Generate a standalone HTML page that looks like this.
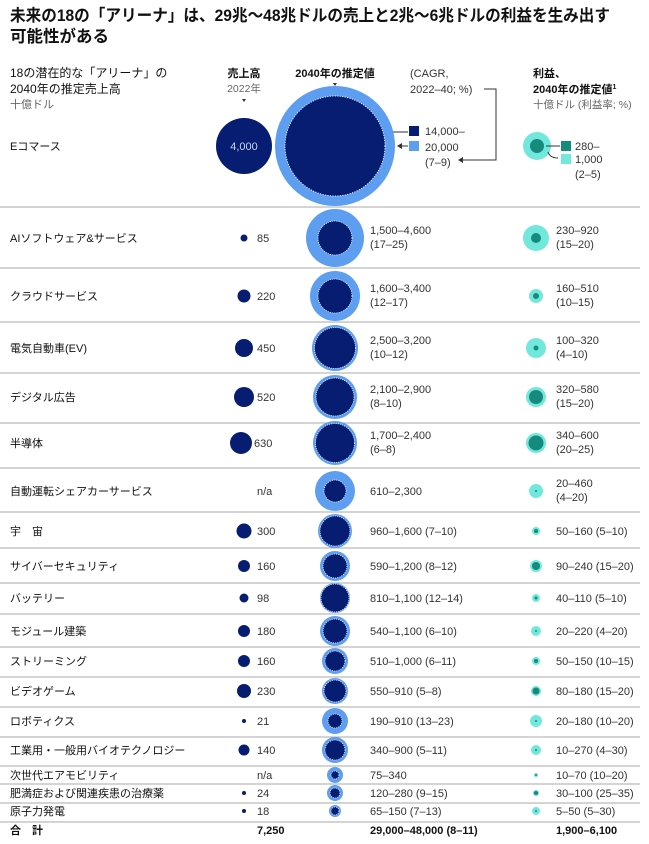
<!DOCTYPE html>
<html><head><meta charset="utf-8"><style>
html,body{margin:0;padding:0;background:#fff;}
svg{display:block;font-family:"Liberation Sans","Noto Sans CJK JP",sans-serif;}
.t{font-size:11px;fill:#333;}
.l{font-size:11px;fill:#111;}
.b{font-weight:bold;}
</style></head><body>
<svg width="649" height="844" viewBox="0 0 649 844" xmlns="http://www.w3.org/2000/svg">
<text x="10" y="21" font-size="16.5" font-weight="bold" fill="#111" textLength="600" lengthAdjust="spacingAndGlyphs">未来の18の「アリーナ」は、29兆～48兆ドルの売上と2兆～6兆ドルの利益を生み出す</text>
<text x="10" y="42" font-size="16.5" font-weight="bold" fill="#111">可能性がある</text>

<text x="10" y="77" font-size="12" fill="#111">18の潜在的な「アリーナ」の</text>
<text x="10" y="93" font-size="12" fill="#111">2040年の推定売上高</text>
<text x="10" y="108" font-size="11" fill="#666">十億ドル</text>
<text x="10" y="150" class="l">Eコマース</text>

<text x="244" y="77" font-size="11" text-anchor="middle" fill="#111" class="b">売上高</text>
<text x="244" y="92" font-size="10.5" text-anchor="middle" fill="#666">2022年</text>
<path d="M242 99 L246 99 L244 102Z" fill="#333"/>
<text x="335" y="77" font-size="11" text-anchor="middle" fill="#111" class="b">2040年の推定値</text>
<path d="M333 83 L337 83 L335 86Z" fill="#333"/>
<text x="410" y="77" class="t" fill="#555">(CAGR,</text>
<text x="410" y="93" class="t">2022–40; %)</text>
<polyline points="484,89 496,89 496,160 462,160" fill="none" stroke="#333" stroke-width="1"/>
<path d="M458 160 L463 157 L463 163Z" fill="#333"/>

<circle cx="244" cy="146" r="28" fill="#061d72"/>
<text x="244" y="150" font-size="11" text-anchor="middle" fill="#c9d3f0">4,000</text>
<line x1="388" y1="132" x2="408" y2="132" stroke="#333"/>
<line x1="400" y1="146" x2="408" y2="146" stroke="#333"/>
<path d="M397 146 L402 143 L402 149Z" fill="#333"/>
<rect x="409" y="126" width="10" height="10" fill="#061d72"/>
<rect x="409" y="141" width="10" height="10" fill="#5e9ef0"/>
<text x="425" y="135" class="t">14,000–</text>
<text x="425" y="151" class="t">20,000</text>
<text x="425" y="166" class="t">(7–9)</text>

<text x="533" y="77" font-size="11" class="b" fill="#111">利益、</text>
<text x="533" y="93" font-size="11" class="b" fill="#111">2040年の推定値<tspan font-size="7" dy="-4">1</tspan></text>
<text x="533" y="108" font-size="10.5" fill="#666">十億ドル (利益率; %)</text>
<circle cx="537" cy="146" r="14" fill="#72e8dc"/>
<circle cx="537" cy="146" r="7" fill="#178a7e"/>
<line x1="546" y1="146" x2="560" y2="146" stroke="#333"/>
<path d="M548 152 Q550 158 558 158" fill="none" stroke="#333"/>
<rect x="561" y="141" width="10" height="10" fill="#178a7e"/>
<rect x="561" y="154" width="10" height="10" fill="#72e8dc"/>
<text x="575" y="150" class="t">280–</text>
<text x="575" y="163" class="t">1,000</text>
<text x="575" y="178" class="t">(2–5)</text>

<g stroke="#aaa" stroke-width="1">
<line x1="0" y1="207" x2="640" y2="207"/>
<line x1="0" y1="268" x2="640" y2="268"/>
<line x1="0" y1="322" x2="640" y2="322"/>
<line x1="0" y1="373" x2="640" y2="373"/>
<line x1="0" y1="423" x2="640" y2="423"/>
<line x1="0" y1="468" x2="640" y2="468"/>
<line x1="0" y1="512" x2="640" y2="512"/>
<line x1="0" y1="548" x2="640" y2="548"/>
<line x1="0" y1="583" x2="640" y2="583"/>
<line x1="0" y1="614" x2="640" y2="614"/>
<line x1="0" y1="647" x2="640" y2="647"/>
<line x1="0" y1="677" x2="640" y2="677"/>
<line x1="0" y1="707" x2="640" y2="707"/>
<line x1="0" y1="737" x2="640" y2="737"/>
<line x1="0" y1="766" x2="640" y2="766"/>
<line x1="0" y1="784" x2="640" y2="784"/>
<line x1="0" y1="803" x2="640" y2="803"/>
<line x1="0" y1="822" x2="640" y2="822"/>
</g>
<circle cx="335" cy="146" r="60" fill="#5e9ef0"/>
<circle cx="335" cy="146" r="50" fill="#061d72" stroke="#fff" stroke-width="1" stroke-dasharray="1 1.5"/>

<g fill="#061d72">
<circle cx="244" cy="238" r="3.5"/>
<circle cx="244" cy="296" r="6.5"/>
<circle cx="244" cy="348" r="9"/>
<circle cx="244" cy="397" r="10"/>
<circle cx="241" cy="443" r="11"/>
<circle cx="244" cy="531" r="7.5"/>
<circle cx="244" cy="566" r="6"/>
<circle cx="244" cy="598" r="4.5"/>
<circle cx="244" cy="631" r="6"/>
<circle cx="244" cy="661" r="6"/>
<circle cx="244" cy="691" r="7"/>
<circle cx="244" cy="721" r="2"/>
<circle cx="244" cy="750" r="5.5"/>
<circle cx="244" cy="793" r="2"/>
<circle cx="244" cy="811" r="2"/>
</g>

<g fill="#5e9ef0">
<circle cx="335" cy="238" r="29"/>
<circle cx="335" cy="296" r="25"/>
<circle cx="335" cy="348" r="23"/>
<circle cx="335" cy="397" r="22"/>
<circle cx="335" cy="443" r="22"/>
<circle cx="335" cy="491" r="20"/>
<circle cx="335" cy="531" r="17"/>
<circle cx="335" cy="566" r="15"/>
<circle cx="335" cy="598" r="15"/>
<circle cx="335" cy="631" r="15"/>
<circle cx="335" cy="661" r="13"/>
<circle cx="335" cy="691" r="13"/>
<circle cx="335" cy="721" r="13"/>
<circle cx="335" cy="750" r="13"/>
<circle cx="335" cy="775" r="8"/>
<circle cx="335" cy="793" r="8"/>
<circle cx="335" cy="811" r="6"/>
</g>
<g fill="#061d72" stroke="#fff" stroke-width="0.8" stroke-dasharray="1 1.2">
<circle cx="335" cy="238" r="17"/>
<circle cx="335" cy="296" r="17"/>
<circle cx="335" cy="348" r="20.5"/>
<circle cx="335" cy="397" r="19"/>
<circle cx="335" cy="443" r="19.5"/>
<circle cx="335" cy="491" r="11"/>
<circle cx="335" cy="531" r="15"/>
<circle cx="335" cy="566" r="12"/>
<circle cx="335" cy="598" r="14"/>
<circle cx="335" cy="631" r="12"/>
<circle cx="335" cy="661" r="10"/>
<circle cx="335" cy="691" r="11"/>
<circle cx="335" cy="721" r="7"/>
<circle cx="335" cy="750" r="10"/>
<circle cx="335" cy="775" r="4"/>
<circle cx="335" cy="793" r="5"/>
<circle cx="335" cy="811" r="4"/>
</g>

<g fill="#72e8dc">
<circle cx="536" cy="238" r="13"/>
<circle cx="536" cy="296" r="7"/>
<circle cx="536" cy="348" r="10"/>
<circle cx="536" cy="397" r="10"/>
<circle cx="536" cy="443" r="10"/>
<circle cx="536" cy="491" r="7"/>
<circle cx="536" cy="531" r="4"/>
<circle cx="536" cy="566" r="6"/>
<circle cx="536" cy="598" r="4"/>
<circle cx="536" cy="631" r="5"/>
<circle cx="536" cy="661" r="4"/>
<circle cx="536" cy="691" r="5"/>
<circle cx="536" cy="721" r="6"/>
<circle cx="536" cy="750" r="5"/>
<circle cx="536" cy="775" r="2"/>
<circle cx="536" cy="793" r="3"/>
<circle cx="536" cy="811" r="4"/>
</g>
<g fill="#178a7e">
<circle cx="536" cy="238" r="5"/>
<circle cx="536" cy="296" r="3"/>
<circle cx="536" cy="348" r="2.5"/>
<circle cx="536" cy="397" r="7"/>
<circle cx="536" cy="443" r="7.5"/>
<circle cx="536" cy="491" r="1"/>
<circle cx="536" cy="531" r="2"/>
<circle cx="536" cy="566" r="4"/>
<circle cx="536" cy="598" r="1.5"/>
<circle cx="536" cy="631" r="1"/>
<circle cx="536" cy="661" r="2"/>
<circle cx="536" cy="691" r="3.5"/>
<circle cx="536" cy="721" r="1"/>
<circle cx="536" cy="750" r="1"/>
<circle cx="536" cy="775" r="1"/>
<circle cx="536" cy="793" r="2"/>
<circle cx="536" cy="811" r="1"/>
</g>

<g class="l">
<text x="10" y="242">AIソフトウェア&amp;サービス</text>
<text x="10" y="300">クラウドサービス</text>
<text x="10" y="352">電気自動車(EV)</text>
<text x="10" y="401">デジタル広告</text>
<text x="10" y="447">半導体</text>
<text x="10" y="495">自動運転シェアカーサービス</text>
<text x="10" y="535">宇　宙</text>
<text x="10" y="570">サイバーセキュリティ</text>
<text x="10" y="602">バッテリー</text>
<text x="10" y="635">モジュール建築</text>
<text x="10" y="665">ストリーミング</text>
<text x="10" y="695">ビデオゲーム</text>
<text x="10" y="725">ロボティクス</text>
<text x="10" y="754">工業用・一般用バイオテクノロジー</text>
<text x="10" y="779">次世代エアモビリティ</text>
<text x="10" y="797">肥満症および関連疾患の治療薬</text>
<text x="10" y="815">原子力発電</text>
<text x="10" y="834" class="b">合　計</text>
</g>

<g class="t">
<text x="257" y="242">85</text>
<text x="257" y="300">220</text>
<text x="257" y="352">450</text>
<text x="257" y="401">520</text>
<text x="254" y="447">630</text>
<text x="257" y="495">n/a</text>
<text x="257" y="535">300</text>
<text x="257" y="570">160</text>
<text x="257" y="602">98</text>
<text x="257" y="635">180</text>
<text x="257" y="665">160</text>
<text x="257" y="695">230</text>
<text x="257" y="725">21</text>
<text x="257" y="754">140</text>
<text x="257" y="779">n/a</text>
<text x="257" y="797">24</text>
<text x="257" y="815">18</text>
<text x="257" y="834" class="b" fill="#111">7,250</text>

<text x="370" y="234">1,500–4,600</text><text x="370" y="248">(17–25)</text>
<text x="370" y="292">1,600–3,400</text><text x="370" y="306">(12–17)</text>
<text x="370" y="344">2,500–3,200</text><text x="370" y="358">(10–12)</text>
<text x="370" y="393">2,100–2,900</text><text x="370" y="407">(8–10)</text>
<text x="370" y="439">1,700–2,400</text><text x="370" y="453">(6–8)</text>
<text x="370" y="495">610–2,300</text>
<text x="370" y="535">960–1,600 (7–10)</text>
<text x="370" y="570">590–1,200 (8–12)</text>
<text x="370" y="602">810–1,100 (12–14)</text>
<text x="370" y="635">540–1,100 (6–10)</text>
<text x="370" y="665">510–1,000 (6–11)</text>
<text x="370" y="695">550–910 (5–8)</text>
<text x="370" y="725">190–910 (13–23)</text>
<text x="370" y="754">340–900 (5–11)</text>
<text x="370" y="779">75–340</text>
<text x="370" y="797">120–280 (9–15)</text>
<text x="370" y="815">65–150 (7–13)</text>
<text x="370" y="834" class="b" fill="#111">29,000–48,000 (8–11)</text>

<text x="556" y="234">230–920</text><text x="556" y="248">(15–20)</text>
<text x="556" y="292">160–510</text><text x="556" y="306">(10–15)</text>
<text x="556" y="344">100–320</text><text x="556" y="358">(4–10)</text>
<text x="556" y="393">320–580</text><text x="556" y="407">(15–20)</text>
<text x="556" y="439">340–600</text><text x="556" y="453">(20–25)</text>
<text x="556" y="487">20–460</text><text x="556" y="501">(4–20)</text>
<text x="556" y="535">50–160 (5–10)</text>
<text x="556" y="570">90–240 (15–20)</text>
<text x="556" y="602">40–110 (5–10)</text>
<text x="556" y="635">20–220 (4–20)</text>
<text x="556" y="665">50–150 (10–15)</text>
<text x="556" y="695">80–180 (15–20)</text>
<text x="556" y="725">20–180 (10–20)</text>
<text x="556" y="754">10–270 (4–30)</text>
<text x="556" y="779">10–70 (10–20)</text>
<text x="556" y="797">30–100 (25–35)</text>
<text x="556" y="815">5–50 (5–30)</text>
<text x="556" y="834" class="b" fill="#111">1,900–6,100</text>
</g>
</svg>
</body></html>
